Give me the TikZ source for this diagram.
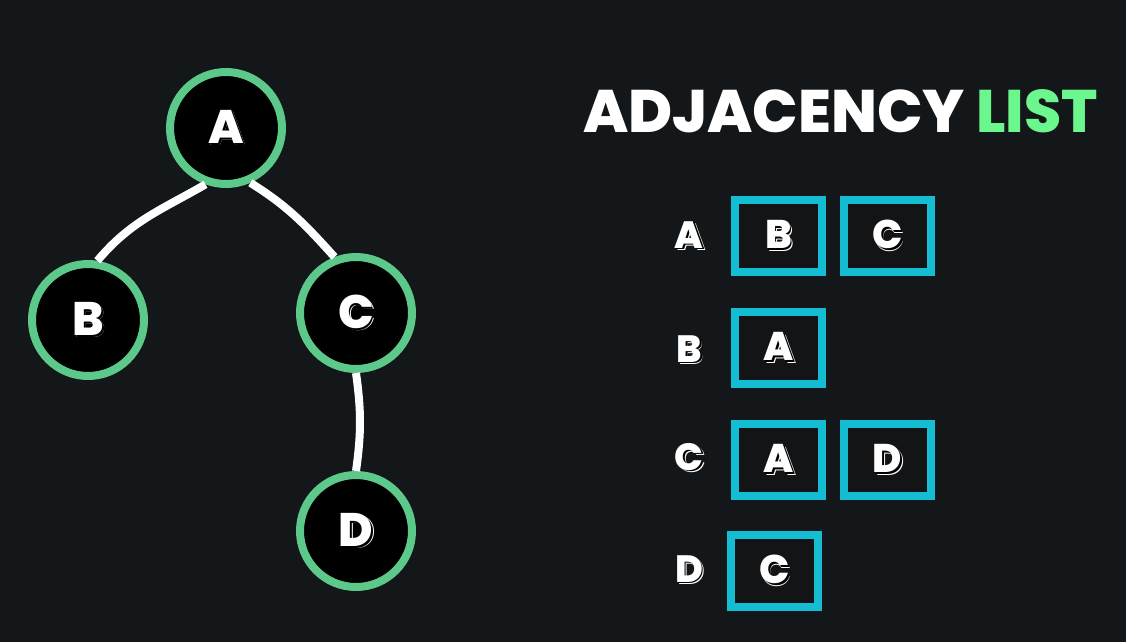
\documentclass[tikz,border=0pt]{standalone}
\usepackage{fontspec}
\newfontfamily\pop{Poppins ExtraBold}
\usetikzlibrary{positioning}

\definecolor{bgdark}{HTML}{141719}
\definecolor{boxfill}{HTML}{121416}
\definecolor{ringgreen}{HTML}{5CC98B}
\definecolor{titlegreen}{HTML}{6CF78E}
\definecolor{cellcyan}{HTML}{14BDD1}

% raised lettering: white outlined drop shadow under a white letter
\newcommand{\raisedletter}[1]{%
  \makebox[0pt][l]{\hspace{2.6pt}\raisebox{-2.6pt}{\textcolor{white}{#1}}}%
  \makebox[0pt][l]{\hspace{1.8pt}\raisebox{-1.8pt}{\textcolor{black}{#1}}}%
  \textcolor{white}{#1}}

\tikzset{
  vertex/.style={circle, draw=ringgreen, line width=8pt, fill=black,
    minimum size=112pt, inner sep=0pt,
    font=\pop\fontsize{47}{47}\selectfont},
  link/.style={draw=white, line width=8pt},
  cell/.style={rectangle, draw=cellcyan, line width=8pt, fill=boxfill,
    minimum width=87pt, minimum height=72pt, inner sep=0pt,
    font=\pop\fontsize{40}{40}\selectfont},
  rowlabel/.style={inner sep=0pt, font=\pop\fontsize{38}{38}\selectfont},
  heading/.style={inner sep=0pt, anchor=base west,
    font=\pop\fontsize{60}{60}\selectfont}
}

\begin{document}
\begin{tikzpicture}[x=1pt, y=-1pt]
  \fill[bgdark] (0,0) rectangle (1126,642);
  \useasboundingbox (0,0) rectangle (1126,642);

  % tree
  \node[vertex] (A) at (226,128) {\raisedletter{A}};
  \node[vertex] (B) at (88,320) {\raisedletter{B}};
  \node[vertex] (C) at (356,313) {\raisedletter{C}};
  \node[vertex] (D) at (356,531) {\raisedletter{D}};

  \draw[link] (A.250) to[out=210, in=50] (B.81);
  \draw[link] (A.294) to[out=-32, in=132] (C.111);
  \draw[link] (C.-90) to[out=-82, in=82] (D.90);

  % heading
  \node[heading] (title) at (583,132)
    {\textcolor{white}{ADJACENCY} \textcolor{titlegreen}{LIST}};

  % adjacency rows
  \node[rowlabel] (la) at (689,236) {\raisedletter{A}};
  \node[cell] (ab) at (778.5,236) {\raisedletter{B}};
  \node[cell] (ac) at (887.5,236) {\raisedletter{C}};

  \node[rowlabel] (lb) at (689,350) {\raisedletter{B}};
  \node[cell] (ba) at (778.5,348) {\raisedletter{A}};

  \node[rowlabel] (lc) at (689,458) {\raisedletter{C}};
  \node[cell] (ca) at (778.5,460) {\raisedletter{A}};
  \node[cell] (cd) at (887.5,460) {\raisedletter{D}};

  \node[rowlabel] (ld) at (689,570) {\raisedletter{D}};
  \node[cell] (dc) at (774.5,571) {\raisedletter{C}};
\end{tikzpicture}
\end{document}
